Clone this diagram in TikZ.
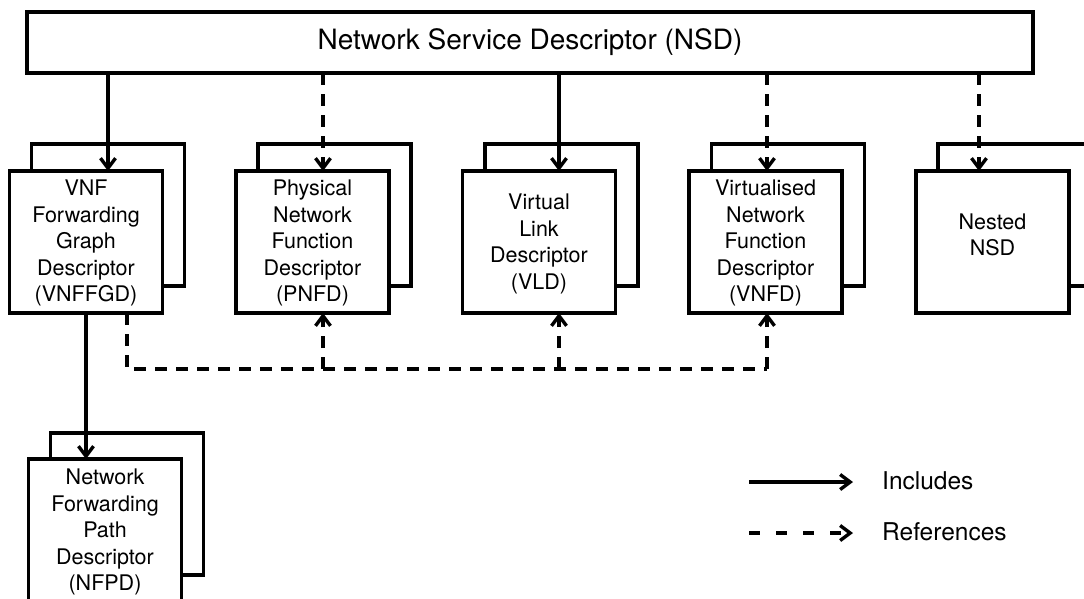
\documentclass[tikz,border=0pt]{standalone}
\usepackage{fontspec}
\setmainfont{TeX Gyre Heros}
\usetikzlibrary{arrows.meta}
\begin{document}
\begin{tikzpicture}[x=1pt,y=-1pt,
  lw/.style={line width=3.4pt},
  frontbox/.style={draw,fill=white,minimum width=153pt,minimum height=142pt,inner sep=0pt,outer sep=0pt,lw},
  boxtext/.style={align=center,inner sep=0pt,font=\fontsize{21.5}{26.5}\selectfont},
  inc/.style={lw,-{Straight Barb[length=10pt,width=15pt]}},
  refl/.style={lw,dash pattern=on 12pt off 9pt},
  refa/.style={refl,-{Straight Barb[length=10pt,width=15pt]}},
  legtext/.style={anchor=west,inner sep=0pt,font=\fontsize{24.5}{28}\selectfont}]
\useasboundingbox (0,0) rectangle (1084,598);
% top box
\node[draw,lw,minimum width=1006pt,minimum height=61pt,inner sep=0pt,outer sep=0pt,
  font=\fontsize{28}{32}\selectfont] (nsd) at (530,42.5) {Network Service Descriptor (NSD)};
% back boxes
\node[frontbox] (vnffgdB) at (108,215) {};
\node[frontbox] (pnfdB) at (334.5,215) {};
\node[frontbox] (vldB) at (561.5,215) {};
\node[frontbox] (vnfdB) at (788,215) {};
\node[frontbox] (nestedB) at (1014.5,215) {};
\node[frontbox] (nfpdB) at (127,504) {};
% front boxes
\node[frontbox] (vnffgd) at (86,242) {};
\node[frontbox] (pnfd) at (312.5,242) {};
\node[frontbox] (vld) at (539,242) {};
\node[frontbox] (vnfd) at (765.5,242) {};
\node[frontbox] (nested) at (992.5,242) {};
\node[frontbox] (nfpd) at (105,530) {};
% texts
\node[boxtext] (t1) at (86,243) {VNF\\Forwarding\\Graph\\Descriptor\\(VNFFGD)};
\node[boxtext] (t2) at (312.5,243) {Physical\\Network\\Function\\Descriptor\\(PNFD)};
\node[boxtext] (t3) at (539,244) {Virtual\\Link\\Descriptor\\(VLD)};
\node[boxtext] (t4) at (765.5,243) {Virtualised\\Network\\Function\\Descriptor\\(VNFD)};
\node[boxtext] (t5) at (992.5,235) {Nested\\NSD};
\node[boxtext] (t6) at (105,532) {Network\\Forwarding\\Path\\Descriptor\\(NFPD)};
% NSD arrows
\draw[inc] (nsd.south -| 108,0) -- (vnffgd.north -| 108,0);
\draw[refa] (nsd.south -| 323,0) -- (pnfd.north -| 323,0);
\draw[inc] (nsd.south -| 559,0) -- (vld.north -| 559,0);
\draw[refa] (nsd.south -| 767,0) -- (vnfd.north -| 767,0);
\draw[refa] (nsd.south -| 979,0) -- (nested.north -| 979,0);
% VNFFGD to NFPD
\draw[inc] (vnffgd.south -| 86,0) -- (nfpd.north -| 86,0);
% reference bus
\coordinate (bus) at (767,369);
\coordinate (b1) at (323,369);
\coordinate (b2) at (559,369);
\draw[refl] (vnffgd.south -| 127,0) |- (bus);
\draw[refa] (b1) -- (pnfd.south -| b1);
\draw[refa] (b2) -- (vld.south -| b2);
\draw[refa] (bus) -- (vnfd.south -| bus);
% legend
\coordinate (l1a) at (749,482);
\coordinate (l1b) at (853,482);
\coordinate (l2a) at (749,533);
\coordinate (l2b) at (853,533);
\draw[inc] (l1a) -- (l1b);
\draw[refa,dash pattern=on 11pt off 16pt] (l2a) -- (l2b);
\node[legtext] (inclabel) at (882,481) {Includes};
\node[legtext] (reflabel) at (882,532) {References};
\end{tikzpicture}
\end{document}
